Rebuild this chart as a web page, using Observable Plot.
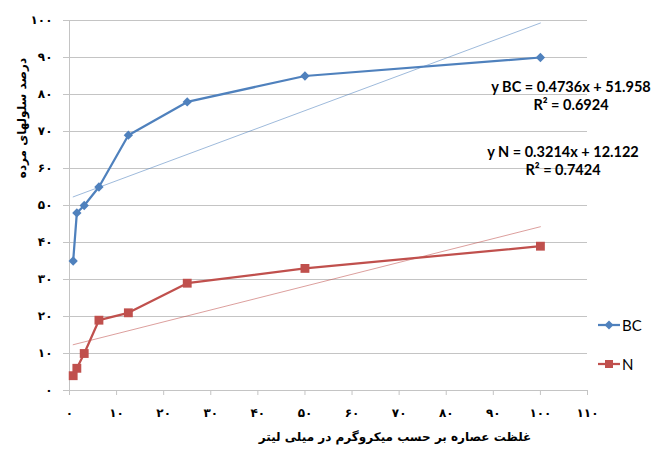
<!DOCTYPE html>
<html><head><meta charset="utf-8">
<script src="https://cdn.jsdelivr.net/npm/d3@7"></script>
<script src="https://cdn.jsdelivr.net/npm/@observablehq/plot@0.6"></script>
<style>
body{margin:0;background:#fff;}
#wrap{position:relative;width:654px;height:454px;overflow:hidden;background:#fff;}
#wrap svg{position:absolute;left:0;top:0;}
.ov{position:absolute;white-space:nowrap;color:#000;}
.eq{font-family:Lato,"Open Sans",sans-serif;font-weight:bold;font-size:14.5px;text-align:center;transform:translateX(-50%);line-height:18px;}
.fa{font-family:"DejaVu Sans",sans-serif;font-weight:bold;font-size:12px;direction:rtl;}
.leg{font-family:Lato,sans-serif;font-size:15px;display:flex;align-items:center;gap:2px;}
</style></head><body><div id="wrap"></div>
<script>
const concentrations = [0.78, 1.56, 3.125, 6.25, 12.5, 25, 50, 100];
const seriesNames = ["BC", "N"];
const bcValues = [35, 48, 50, 55, 69, 78, 85, 90];
const nValues = [4, 6, 10, 19, 21, 29, 33, 39];
const seriesColors = ["#4f81bd", "#c0504d"];
const seriesSymbols = ["diamond2", "square"];
const trendSlopes = [0.4736, 0.3214];
const trendIntercepts = [51.958, 12.122];
const trendR2 = ["0.6924", "0.7424"];
const xTicks = [0, 10, 20, 30, 40, 50, 60, 70, 80, 90, 100, 110];
const xTickLabels = ["۰", "۱۰", "۲۰", "۳۰", "۴۰", "۵۰", "۶۰", "۷۰", "۸۰", "۹۰", "۱۰۰", "۱۱۰"];
const yTicks = [0, 10, 20, 30, 40, 50, 60, 70, 80, 90, 100];
const yTickLabels = ["۰", "۱۰", "۲۰", "۳۰", "۴۰", "۵۰", "۶۰", "۷۰", "۸۰", "۹۰", "۱۰۰"];
const xTitle = "غلظت عصاره بر حسب میکروگرم در میلی لیتر";
const yTitle = "درصد سلولهای مرده";

const seriesValues = [bcValues, nValues];
const rows = seriesNames.flatMap((s, k) => concentrations.map((x, i) => ({series: s, x, y: seriesValues[k][i]})));
const xMin = d3.min(concentrations), xMax = d3.max(concentrations);
const trendRows = seriesNames.flatMap((s, k) => [xMin, xMax].map(x => ({series: s, x, y: trendSlopes[k] * x + trendIntercepts[k]})));

const plot = Plot.plot({
  width: 654, height: 454,
  marginLeft: 69, marginRight: 67, marginTop: 20, marginBottom: 64,
  x: {domain: [0, 110], label: null},
  y: {domain: [0, 100], label: null},
  color: {domain: seriesNames, range: seriesColors},
  symbol: {domain: seriesNames, range: seriesSymbols},
  style: {fontFamily: "DejaVu Sans", fontSize: "12px", background: "#fff", overflow: "visible"},
  marks: [
    Plot.ruleY(yTicks.slice(1), {stroke: "#c4c4c4", strokeWidth: 1}),
    Plot.axisY({ticks: yTicks, tickFormat: d => yTickLabels[yTicks.indexOf(d)], tickSize: 6, tickPadding: 11, stroke: "#c4c4c4", fill: "#000", fontWeight: "bold", label: null}),
    Plot.axisX({ticks: xTicks, tickFormat: d => xTickLabels[xTicks.indexOf(d)], tickSize: 5, tickPadding: 13, stroke: "#c4c4c4", fill: "#000", fontWeight: "bold", label: null}),
    Plot.ruleX([0], {stroke: "#c4c4c4"}),
    Plot.ruleY([0], {stroke: "#c4c4c4"}),
    Plot.line(trendRows, {x: "x", y: "y", z: "series", stroke: "series", strokeWidth: 1, strokeOpacity: 0.55}),
    Plot.line(rows, {x: "x", y: "y", z: "series", stroke: "series", strokeWidth: 2.25}),
    Plot.dot(rows.filter(d => d.series === seriesNames[0]), {x: "x", y: "y", symbol: "series", fill: "series", r: 4.2, stroke: "none"}),
    Plot.dot(rows.filter(d => d.series === seriesNames[1]), {x: "x", y: "y", symbol: "series", fill: "series", r: 5, stroke: "none"})
  ]
});
const wrap = document.getElementById("wrap");
wrap.appendChild(plot);

function addDiv(cls, html, css) {
  const d = document.createElement("div");
  d.className = "ov " + cls;
  d.innerHTML = html;
  Object.assign(d.style, css);
  wrap.appendChild(d);
  return d;
}
// equations
const eqPos = [[571, 78], [563, 143]];
seriesNames.forEach((s, k) => {
  addDiv("eq", `y ${s} = ${trendSlopes[k]}x + ${trendIntercepts[k]}<br>R² = ${trendR2[k]}`, {left: eqPos[k][0] + "px", top: eqPos[k][1] + "px"});
});
// legend
const legTop = [316, 355];
seriesNames.forEach((s, k) => {
  const sym = seriesSymbols[k] === "diamond2"
    ? `<path d="M11,4.5L15.5,9L11,13.5L6.5,9Z" fill="${seriesColors[k]}"/>`
    : `<rect x="7" y="5" width="8" height="8" fill="${seriesColors[k]}"/>`;
  addDiv("leg", `<svg width="22" height="18" style="position:static"><line x1="0" x2="22" y1="9" y2="9" stroke="${seriesColors[k]}" stroke-width="2.25"/>${sym}</svg><span>${s}</span>`, {left: "598px", top: legTop[k] + "px"});
});
// axis titles
addDiv("fa", xTitle, {left: "395px", top: "430px", transform: "translateX(-50%)"});
addDiv("fa", yTitle, {left: "22px", top: "118px", transform: "translate(-50%,-50%) rotate(-90deg)"});
</script></body></html>
